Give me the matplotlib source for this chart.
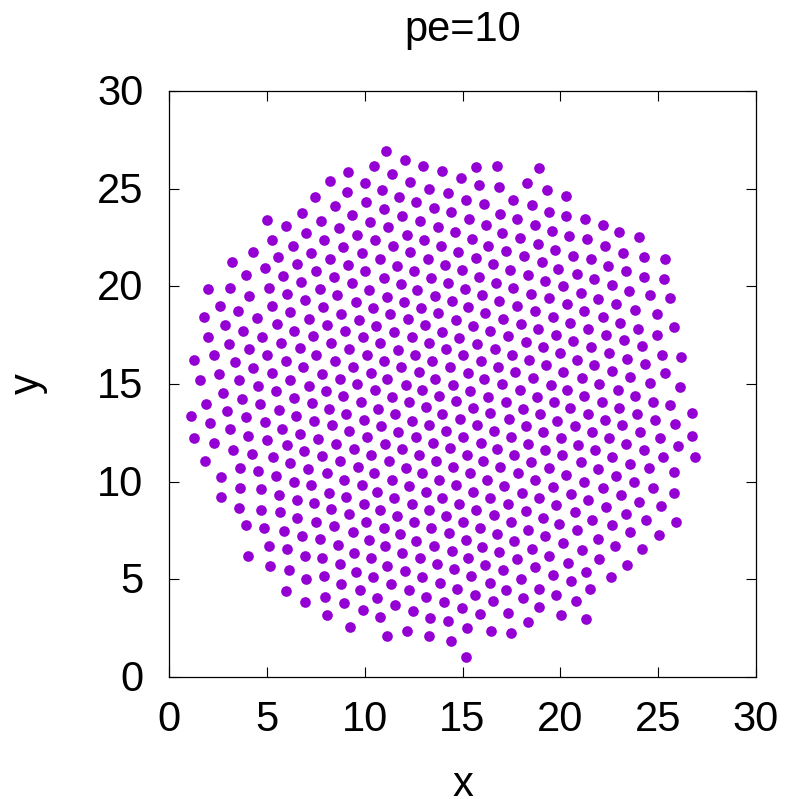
import numpy as np
import matplotlib
matplotlib.use("Agg")
import matplotlib.pyplot as plt
from matplotlib.transforms import ScaledTranslation

plt.rcParams['font.family'] = ['Liberation Sans', 'DejaVu Sans']

# particle positions, one list per part of the plot
top_left = [(9.17,25.87),(8.22,25.37),(9.12,24.81),(7.47,24.56),(8.46,24.11),(6.78,23.77),(9.36,23.67),(5.01,23.40),
(7.76,23.36),(6.00,23.07),(8.71,23.00),(7.02,22.73),(9.60,22.65),(5.25,22.39),(7.94,22.37),(6.36,22.07),(8.90,22.02),
(4.31,21.78),(7.26,21.73),(5.56,21.49),(8.23,21.40),(3.24,21.25),(6.56,21.15),(9.15,21.08),(4.89,20.92),(7.52,20.80),
(3.95,20.57),(5.83,20.53),(8.44,20.48),(6.73,20.23),(9.34,20.16),(2.01,19.88),(3.12,19.90),(5.10,19.92),(7.71,19.87),
(6.05,19.61),(8.61,19.56),(4.09,19.53),(6.97,19.29),(9.55,19.22),(2.61,19.01),(5.28,18.98),(7.86,18.96),(3.53,18.74),
(6.19,18.67),(8.80,18.59),(1.79,18.43),(4.48,18.38),(7.13,18.35),(9.72,18.26)]

top_mid = [(11.11,26.93),(12.04,26.45),(10.46,26.16),(12.97,26.16),(15.71,26.12),(16.78,26.16),(18.90,26.06),(13.94,25.89),
(11.40,25.73),(14.91,25.53),(10.02,25.29),(12.33,25.34),(18.29,25.31),(15.85,25.19),(10.87,24.91),(13.29,25.00),(16.84,25.08),
(19.31,24.93),(14.24,24.78),(11.77,24.56),(15.16,24.42),(17.60,24.44),(10.07,24.30),(12.64,24.32),(16.09,24.23),(18.54,24.18),
(13.55,24.03),(11.00,23.94),(14.43,23.81),(16.94,23.72),(19.43,23.79),(11.93,23.62),(15.32,23.43),(17.79,23.43),(10.25,23.31),
(12.85,23.36),(16.19,23.12),(18.68,23.14),(13.73,23.06),(11.21,23.02),(14.60,22.77),(17.04,22.71),(12.15,22.65),(17.96,22.49),
(10.53,22.37),(13.03,22.37),(15.47,22.41),(18.85,22.17),(11.43,22.05),(13.92,22.07),(16.32,22.07),(9.86,21.71),(12.33,21.74),
(14.79,21.74),(17.24,21.81),(10.77,21.38),(13.22,21.42),(15.68,21.45),(18.13,21.56),(19.04,21.25),(14.11,21.11),(16.55,21.15),
(11.64,21.06),(10.03,20.79),(12.52,20.80),(14.96,20.82),(17.43,20.86),(15.85,20.48),(18.34,20.57),(10.97,20.41),(13.41,20.45),
(19.22,20.29),(14.28,20.17),(16.72,20.19),(11.84,20.12),(10.22,19.82),(12.69,19.83),(15.15,19.87),(17.60,19.92),(18.52,19.61),
(16.02,19.58),(11.14,19.47),(13.58,19.51),(19.43,19.39),(11.99,19.20),(14.45,19.25),(16.87,19.24),(15.30,18.93),(17.76,19.01),
(10.42,18.91),(12.86,18.91),(18.71,18.72),(11.29,18.57),(13.75,18.62),(16.15,18.62),(12.20,18.33),(17.09,18.35),(14.67,18.28)]

top_right = [(20.27,24.64),(20.29,23.60),(21.24,23.43),(22.16,23.16),(23.00,22.77),(24.01,22.53),(19.59,22.83),(20.42,22.56),
(21.38,22.44),(22.28,22.05),(19.71,21.86),(20.63,21.54),(23.22,21.71),(24.30,21.49),(25.35,21.40),(21.55,21.38),(22.42,21.04),
(19.90,20.91),(23.34,20.77),(20.83,20.62),(24.30,20.48),(25.32,20.36),(21.70,20.36),(22.64,20.07),(20.12,20.00),(23.53,19.75),
(21.04,19.68),(24.60,19.54),(25.63,19.39),(21.94,19.37),(22.83,19.12),(20.34,19.07),(21.23,18.76),(23.80,18.78),(24.94,18.59),
(19.64,18.42),(22.18,18.45)]

mid_left = [(2.86,18.02),(5.51,18.06),(8.10,18.02),(3.78,17.70),(6.39,17.73),(8.97,17.70),(2.01,17.39),(4.77,17.39),(7.36,17.44),
(5.74,17.09),(3.08,17.05),(8.29,17.09),(4.07,16.78),(6.68,16.83),(9.19,16.80),(2.32,16.47),(5.03,16.49),(7.53,16.49),(1.29,16.22),
(3.36,16.11),(5.97,16.17),(8.47,16.17),(9.41,15.89),(4.31,15.84),(6.87,15.86),(2.57,15.50),(5.28,15.55),(7.81,15.53),(1.57,15.23),
(3.58,15.18),(6.17,15.19),(8.73,15.26),(9.63,14.99),(4.53,14.92),(7.13,14.92),(2.78,14.55),(5.45,14.63),(8.03,14.65),(8.90,14.38),
(3.75,14.24),(6.41,14.27),(9.80,14.07),(1.91,13.98),(4.67,13.97),(7.30,14.02),(8.18,13.74),(2.98,13.64),(5.63,13.66),(9.05,13.47),
(1.11,13.35),(3.95,13.32),(6.49,13.35),(4.89,13.05),(7.43,13.10),(2.08,12.98),(8.34,12.88),(3.14,12.72),(5.80,12.72),(9.22,12.59),
(6.72,12.45),(1.29,12.23),(4.02,12.36),(7.62,12.19),(2.32,11.97),(5.01,12.12),(8.54,11.94),(6.02,11.87),(9.46,11.66),(3.29,11.61),
(6.90,11.58),(4.26,11.43),(7.84,11.32),(5.30,11.26),(1.86,11.07),(8.76,11.05),(6.19,10.95),(9.65,10.76),(3.61,10.69),(7.11,10.66),
(4.55,10.56),(8.05,10.42),(5.45,10.30),(2.64,10.25),(8.92,10.11),(6.38,9.99),(7.28,9.81),(3.65,9.70),(4.72,9.62)]

mid_mid = [(10.56,17.99),(13.08,18.02),(15.54,17.96),(18.01,18.06),(18.88,17.82),(11.50,17.68),(13.97,17.68),(16.43,17.70),(9.93,17.39),
(12.40,17.39),(14.84,17.36),(17.35,17.44),(10.78,17.09),(13.29,17.10),(15.76,17.07),(18.23,17.14),(19.12,16.90),(11.69,16.76),
(14.18,16.78),(16.65,16.78),(10.12,16.47),(12.59,16.51),(15.03,16.46),(17.52,16.51),(10.99,16.17),(13.46,16.17),(15.97,16.17),
(18.42,16.23),(19.29,15.96),(11.87,15.86),(14.36,15.86),(16.80,15.88),(10.31,15.57),(12.78,15.62),(15.27,15.57),(17.69,15.60),
(11.16,15.28),(13.61,15.28),(16.12,15.25),(18.61,15.31),(12.10,14.97),(14.52,14.97),(17.02,14.99),(10.53,14.67),(12.95,14.70),
(15.39,14.65),(17.93,14.70),(11.40,14.34),(13.78,14.41),(16.32,14.36),(18.80,14.34),(12.27,14.09),(14.65,14.14),(17.21,14.09),
(10.68,13.74),(13.12,13.80),(15.56,13.78),(18.11,13.74),(13.97,13.47),(11.55,13.45),(16.43,13.49),(18.97,13.45),(9.95,13.16),
(12.40,13.13),(14.86,13.20),(17.36,13.20),(10.82,12.86),(13.29,12.88),(15.76,12.88),(18.23,12.86),(11.72,12.55),(14.16,12.60),
(16.61,12.57),(19.09,12.53),(10.14,12.28),(12.61,12.28),(15.05,12.31),(17.48,12.28),(11.02,11.95),(13.48,11.97),(15.92,11.97),
(18.37,11.94),(11.93,11.65),(14.35,11.70),(16.75,11.65),(19.24,11.63),(10.32,11.39),(12.79,11.37),(15.22,11.37),(17.62,11.37),
(11.23,11.07),(13.65,11.05),(16.05,11.07),(18.52,11.00),(12.10,10.69),(14.53,10.73),(16.94,10.74),(19.41,10.71),(10.48,10.44),
(12.95,10.44),(15.40,10.45),(17.82,10.42),(11.38,10.11),(13.78,10.10),(16.27,10.10),(18.71,10.06),(9.85,9.81),(12.25,9.79),
(14.65,9.82),(17.14,9.77)]

mid_right = [(25.81,17.94),(23.97,17.82),(21.43,17.82),(20.49,18.14),(23.05,18.14),(19.78,17.51),(22.32,17.53),(24.96,17.50),(23.24,17.24),
(20.65,17.21),(24.16,16.92),(21.58,16.88),(20.00,16.57),(22.50,16.59),(25.18,16.47),(26.19,16.37),(20.87,16.22),(23.39,16.27),
(21.72,15.96),(24.35,16.00),(20.15,15.62),(22.64,15.65),(25.37,15.55),(21.09,15.31),(23.56,15.36),(21.98,15.02),(24.57,15.06),
(26.14,14.84),(19.54,14.96),(20.36,14.68),(22.93,14.68),(21.21,14.39),(23.82,14.38),(19.66,14.07),(22.13,14.10),(24.76,14.09),
(25.63,13.90),(20.49,13.78),(23.02,13.76),(26.75,13.49),(21.41,13.47),(23.90,13.45),(19.81,13.13),(22.30,13.15),(24.86,13.16),
(23.14,12.89),(25.85,12.93),(20.75,12.84),(21.64,12.53),(24.09,12.53),(26.75,12.36),(20.02,12.26),(22.47,12.24),(25.08,12.23),
(20.92,11.90),(23.36,11.94),(26.00,11.82),(21.79,11.60),(24.26,11.61),(20.10,11.34),(22.66,11.26),(25.23,11.27),(26.87,11.24),
(21.04,11.00),(23.58,10.93),(21.91,10.64),(24.52,10.68),(25.80,10.49),(20.31,10.35),(22.86,10.30),(23.78,9.99),(21.23,9.98),
(24.76,9.70),(22.16,9.69),(19.61,9.75)]

bottom_left = [(2.66,9.19),(5.64,9.34),(6.53,9.07),(7.43,8.90),(9.07,9.24),(8.18,9.44),(3.56,8.64),(4.69,8.57),(5.68,8.44),(8.29,8.61),
(6.56,8.13),(9.21,8.34),(7.52,7.96),(3.94,7.76),(4.88,7.65),(8.44,7.72),(5.86,7.47),(9.38,7.41),(6.80,7.24),(7.72,7.04),(5.11,6.70),
(8.66,6.78),(6.05,6.53),(9.48,6.37),(4.06,6.20),(6.94,6.19),(7.84,6.07),(8.76,5.81),(5.15,5.66),(6.12,5.49),(9.58,5.40),(6.99,5.01),
(7.94,5.15),(8.80,4.74),(9.75,4.45),(6.00,4.41),(7.98,4.12),(6.94,3.85),(8.92,3.78),(8.06,3.15),(9.24,2.57)]

bottom_mid = [(10.61,9.49),(13.12,9.49),(15.56,9.48),(18.05,9.43),(18.92,9.15),(11.52,9.14),(13.97,9.15),(16.43,9.17),(9.96,8.86),
(12.40,8.88),(14.82,8.88),(17.35,8.86),(10.80,8.56),(13.27,8.56),(15.69,8.56),(18.23,8.52),(19.10,8.16),(11.65,8.23),(14.14,8.25),
(16.60,8.30),(10.08,7.93),(12.52,7.93),(15.03,7.91),(17.48,7.96),(10.97,7.62),(13.41,7.65),(15.88,7.62),(18.37,7.53),(11.79,7.30),
(14.31,7.36),(16.75,7.33),(19.22,7.21),(10.22,7.02),(12.64,6.97),(15.18,6.99),(17.64,6.97),(11.04,6.72),(13.56,6.73),(16.00,6.65),
(18.54,6.56),(11.89,6.34),(14.45,6.44),(16.89,6.41),(19.43,6.22),(10.32,6.08),(12.81,6.08),(15.30,6.08),(17.77,6.03),(11.16,5.68),
(13.72,5.78),(16.17,5.73),(18.71,5.61),(12.04,5.44),(14.57,5.51),(17.07,5.47),(10.44,5.10),(12.95,5.13),(15.44,5.15),(18.00,5.04),
(11.36,4.74),(13.83,4.82),(16.39,4.79),(18.90,4.53),(12.25,4.43),(14.70,4.50),(17.24,4.45),(10.63,4.06),(13.14,4.11),(15.64,4.21),
(18.10,4.06),(11.57,3.71),(14.04,3.82),(16.58,3.89),(18.93,3.60),(9.90,3.44),(12.45,3.39),(14.99,3.54),(10.77,3.08),(15.90,3.20),
(17.35,3.27),(13.36,3.02),(14.28,2.86),(18.34,2.81),(15.25,2.52),(12.16,2.37),(16.44,2.38),(11.12,2.11),(13.29,2.08),(17.50,2.25),
(14.41,1.86),(15.16,1.04)]

bottom_right = [(20.53,9.36),(23.08,9.31),(25.80,9.44),(21.43,9.05),(24.04,8.98),(19.78,8.78),(22.33,8.69),(25.15,8.76),(23.36,8.37),
(20.73,8.44),(24.36,8.03),(25.90,7.91),(21.62,8.03),(19.95,7.84),(22.62,7.77),(20.83,7.52),(23.56,7.40),(25.03,7.28),(21.91,7.09),
(20.13,6.85),(22.81,6.72),(21.12,6.49),(24.19,6.55),(21.96,6.05),(20.37,5.86),(23.43,5.73),(21.29,5.40),(19.61,5.22),(22.59,5.13),
(20.54,4.89),(21.52,4.50),(19.78,4.21),(20.78,3.89),(20.05,3.17),(21.31,2.96)]

ticks = [0, 5, 10, 15, 20, 25, 30]

pts = np.array(top_left + top_mid + top_right + mid_left + mid_mid + mid_right
               + bottom_left + bottom_mid + bottom_right)

fig = plt.figure(figsize=(7.86, 7.99), dpi=100)
ax = fig.add_axes([169/786, 1-677/799, 587/786, 586/799])
ax.scatter(pts[:, 0], pts[:, 1], s=59, color='#9400D3', linewidths=0, zorder=3)

ax.set_xlim(0, 30)
ax.set_ylim(0, 30)
ax.set_xticks(ticks)
ax.set_yticks(ticks)
ax.tick_params(direction='in', top=True, right=True, length=7.2, width=0.8, labelsize=30)
ax.tick_params(axis='x', pad=16.5)
ax.tick_params(axis='y', pad=18.5)
for s in ax.spines.values():
    s.set_linewidth(0.9)

# y tick labels sit a little high in the original
for lab in ax.get_yticklabels():
    lab.set_transform(lab.get_transform() + ScaledTranslation(0, 1.5/100, fig.dpi_scale_trans))

ax.set_xlabel('x', fontsize=30, labelpad=18)
ax.set_ylabel('y', fontsize=30, labelpad=35)
ax.set_title('pe=10', fontsize=30, pad=36)

fig.savefig('out.png', dpi=100)
